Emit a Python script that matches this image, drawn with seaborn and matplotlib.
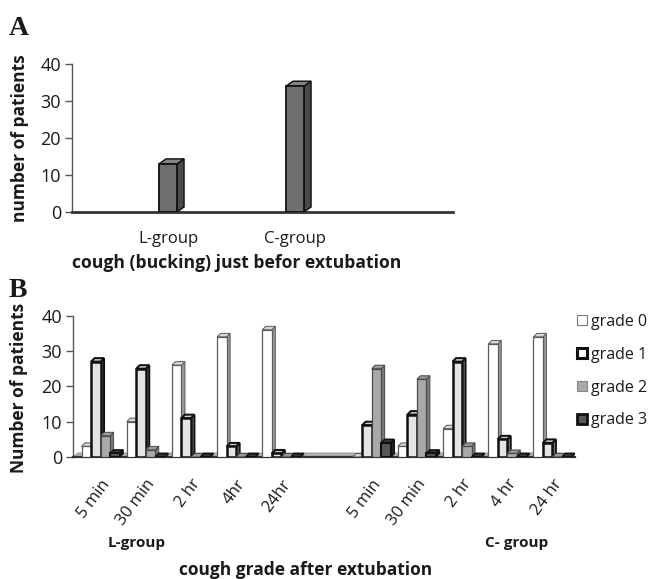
import matplotlib
matplotlib.use("Agg")
import matplotlib.pyplot as plt
from matplotlib.patches import Polygon, Patch
import matplotlib.colors as mcolors
import seaborn as sns
import pandas as pd

# ---------------- data ----------------
groups_A = ["L-group", "C-group"]
cough_A = [13, 34]

times_L = ["5 min", "30 min", "2 hr", "4hr", "24hr"]
times_C = ["5 min", "30 min", "2 hr", "4 hr", "24 hr"]
grades = ["grade 0", "grade 1", "grade 2", "grade 3"]

grade0_L = [3, 10, 26, 34, 36]
grade1_L = [27, 25, 11, 3, 1]
grade2_L = [6, 2, 0, 0, 0]
grade3_L = [1, 0, 0, 0, 0]

grade0_C = [0, 3, 8, 32, 34]
grade1_C = [9, 12, 27, 5, 4]
grade2_C = [25, 22, 3, 1, 0]
grade3_C = [4, 1, 0, 0, 0]

# ---------------- style ----------------
sns.set_theme(style="white")
plt.rcParams["font.family"] = ["Open Sans", "DejaVu Sans"]
TXT = "#1a1a1a"

front = {"grade 0": "#ffffff", "grade 1": "#e4e4e4", "grade 2": "#a9a9a9", "grade 3": "#575757"}
side = {"grade 0": "#9a9a9a", "grade 1": "#8a8a8a", "grade 2": "#7a7a7a", "grade 3": "#2a2a2a"}
top = {"grade 0": "#d8d8d8", "grade 1": "#cfcfcf", "grade 2": "#9a9a9a", "grade 3": "#3a3a3a"}
edge = {"grade 0": "#5a5a5a", "grade 1": "#111111", "grade 2": "#4a4a4a", "grade 3": "#111111"}
lw = {"grade 0": 0.9, "grade 1": 1.8, "grade 2": 0.9, "grade 3": 1.5}

fig = plt.figure(figsize=(6.5, 5.79), dpi=100)
FW, FH = 650, 579


def add_depth(ax, rect, dxp, dyp, sc, tc, ec, lwd, z):
    bb = ax.get_position()
    x0, x1 = ax.get_xlim()
    y0, y1 = ax.get_ylim()
    dx = dxp * (x1 - x0) / (bb.width * FW)
    dy = dyp * (y1 - y0) / (bb.height * FH)
    xa = rect.get_x()
    xb = xa + rect.get_width()
    ya = rect.get_y()
    yb = ya + rect.get_height()
    s = Polygon([(xb, ya), (xb + dx, ya + dy), (xb + dx, yb + dy), (xb, yb)],
                closed=True, facecolor=sc, edgecolor=ec, linewidth=lwd * 0.8, zorder=z - 0.0002)
    t = Polygon([(xa, yb), (xb, yb), (xb + dx, yb + dy), (xa + dx, yb + dy)],
                closed=True, facecolor=tc, edgecolor=ec, linewidth=lwd * 0.8, zorder=z - 0.0001)
    ax.add_patch(s)
    ax.add_patch(t)
    rect.set_zorder(z)


# ---------------- Panel A ----------------
axA = fig.add_axes([72 / FW, 1 - 212 / FH, (453 - 72) / FW, 148 / FH])
dfA = pd.DataFrame({"group": groups_A, "n": cough_A})
sns.barplot(data=dfA, x="group", y="n", ax=axA, color="#6f6f6f", saturation=1,
            width=0.142, edgecolor="#111111", linewidth=1.3)
axA.set_xlim(-0.756, 2.244)
axA.set_ylim(0, 40)
axA.set_yticks([0, 10, 20, 30, 40])
axA.set_xlabel("")
axA.set_ylabel("")
for sp in ["top", "right"]:
    axA.spines[sp].set_visible(False)
axA.spines["left"].set_color("#555555")
axA.spines["left"].set_linewidth(1.0)
axA.spines["bottom"].set_color("#333333")
axA.spines["bottom"].set_linewidth(2.0)
axA.tick_params(axis="y", left=True, length=5, width=1, color="#555555",
                labelsize=13, labelcolor=TXT, pad=3)
axA.tick_params(axis="x", bottom=False, labelsize=12, labelcolor=TXT, pad=8)
for k, r in enumerate(axA.patches):
    add_depth(axA, r, 7, 5, "#4a4a4a", "#858585", "#111111", 1.3, 3 + k * 0.01)

fig.text(9 / FW, 1 - 35 / FH, "A", fontsize=20, fontweight="bold",
         family="Liberation Serif", color=TXT)
fig.text(20 / FW, 1 - 138 / FH, "number of patients", rotation=90, fontsize=12.5,
         fontweight="bold", ha="center", va="center", color=TXT)
fig.text(237 / FW, 1 - 263 / FH, "cough (bucking) just befor extubation", fontsize=12.6,
         fontweight="bold", ha="center", va="center", color=TXT)

# ---------------- Panel B ----------------
slots = ["L|" + t for t in times_L] + ["gap"] + ["C|" + t for t in times_C]
vals = {
    "grade 0": grade0_L + grade0_C,
    "grade 1": grade1_L + grade1_C,
    "grade 2": grade2_L + grade2_C,
    "grade 3": grade3_L + grade3_C,
}
keys = ["L|" + t for t in times_L] + ["C|" + t for t in times_C]
rows = []
for g in grades:
    for key, v in zip(keys, vals[g]):
        rows.append({"slot": key, "grade": g, "n": v})
dfB = pd.DataFrame(rows)

axB = fig.add_axes([73 / FW, 1 - 457 / FH, 502 / FW, (457 - 315.7) / FH])
sns.barplot(data=dfB, x="slot", y="n", hue="grade", order=slots, hue_order=grades,
            palette=front, saturation=1, width=0.84, ax=axB, legend=False)
axB.set_xlim(-0.61, 10.5)
axB.set_ylim(0, 40)
axB.set_yticks([0, 10, 20, 30, 40])
axB.set_xticks(range(len(slots)))
axB.set_xticklabels(times_L + [""] + times_C, rotation=53, ha="right",
                    rotation_mode="anchor")
axB.set_xlabel("")
axB.set_ylabel("")
for sp in ["top", "right"]:
    axB.spines[sp].set_visible(False)
axB.spines["left"].set_color("#555555")
axB.spines["left"].set_linewidth(1.0)
axB.spines["bottom"].set_color("#333333")
axB.spines["bottom"].set_linewidth(1.6)
axB.tick_params(axis="y", left=True, length=5, width=1, color="#555555",
                labelsize=13, labelcolor=TXT, pad=3)
axB.tick_params(axis="x", bottom=False, labelsize=12, labelcolor=TXT, pad=8)

# identify bars by colour, style and add depth
cmap = {tuple(round(c, 3) for c in mcolors.to_rgba(front[g])): g for g in grades}
bars = []
for r in axB.patches:
    key = tuple(round(c, 3) for c in r.get_facecolor())
    if key in cmap:
        bars.append((r.get_x(), cmap[key], r))
bars.sort(key=lambda b: b[0])
for k, (_, g, r) in enumerate(bars):
    r.set_edgecolor(edge[g])
    r.set_linewidth(lw[g])
    add_depth(axB, r, 3.5, 3.5, side[g], top[g], edge[g], lw[g], 3 + k * 0.001)

# floor
bb = axB.get_position()
xl0, xl1 = axB.get_xlim()
fdx = 5 * (xl1 - xl0) / (bb.width * FW)
fdy = 4 * 40 / (bb.height * FH)
axB.add_patch(Polygon([(xl0, 0), (xl1 - fdx, 0), (xl1, fdy), (xl0 + fdx, fdy)], closed=True,
                      facecolor="#b5b5b5", edgecolor="#8a8a8a", linewidth=0.6, zorder=1.5,
                      clip_on=False))

fig.text(9 / FW, 1 - 297 / FH, "B", fontsize=20, fontweight="bold",
         family="Liberation Serif", color=TXT)
fig.text(19 / FW, 1 - 388 / FH, "Number of patients", rotation=90, fontsize=12.5,
         fontweight="bold", ha="center", va="center", color=TXT)
fig.text(137 / FW, 1 - 543 / FH, "L-group", fontsize=11, fontweight="bold",
         ha="center", va="center", color=TXT)
fig.text(517 / FW, 1 - 543 / FH, "C- group", fontsize=11, fontweight="bold",
         ha="center", va="center", color=TXT)
fig.text(306 / FW, 1 - 570 / FH, "cough grade after extubation", fontsize=12.5,
         fontweight="bold", ha="center", va="center", color=TXT)

handles = [
    Patch(facecolor="#ffffff", edgecolor="#777777", linewidth=0.8),
    Patch(facecolor="#ffffff", edgecolor="#111111", linewidth=2.2),
    Patch(facecolor="#a9a9a9", edgecolor="#888888", linewidth=0.8),
    Patch(facecolor="#575757", edgecolor="#111111", linewidth=2.0),
]
fig.legend(handles, grades, loc="upper left", bbox_to_anchor=(577 / FW, 1 - 314 / FH),
           frameon=False, fontsize=11.5, handlelength=0.6, handleheight=0.6,
           handletextpad=0.25, labelspacing=1.05, borderaxespad=0, borderpad=0,
           labelcolor=TXT)

fig.savefig("out.png", dpi=100)
